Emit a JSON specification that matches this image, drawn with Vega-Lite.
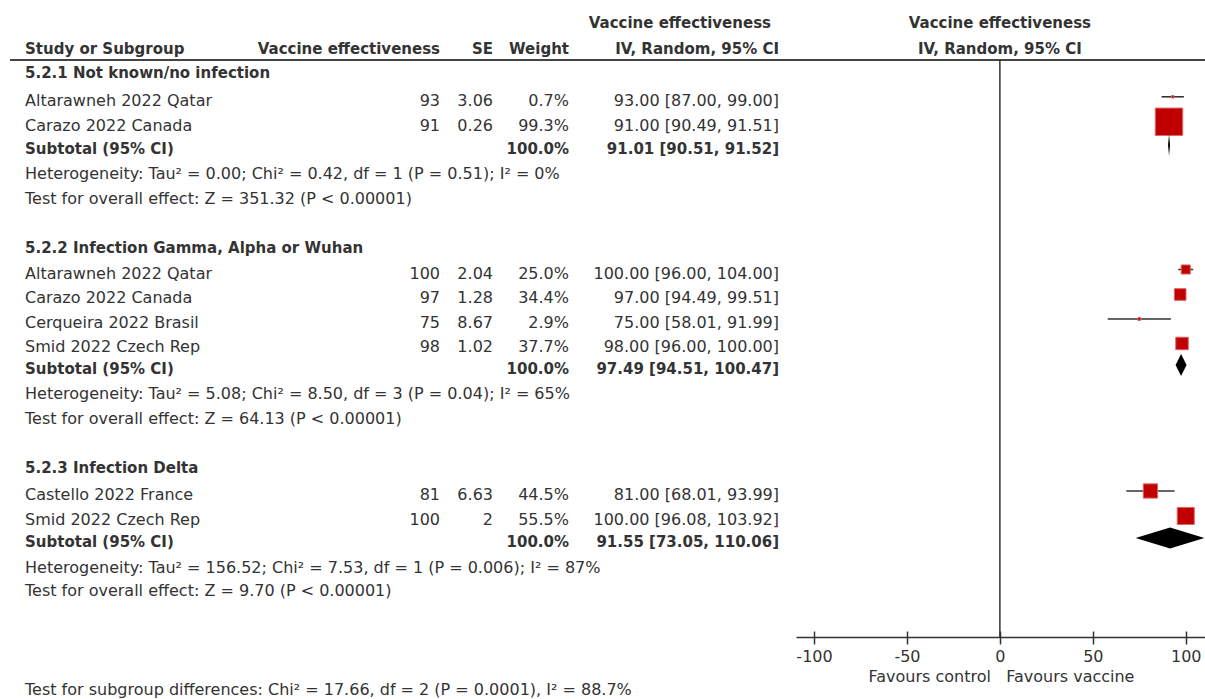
{
  "$schema": "https://vega.github.io/schema/vega-lite/v6.json",
  "background": "white",
  "padding": {"left": 9, "top": 0, "right": 0, "bottom": 0},
  "spacing": 0,
  "bounds": "flush",
  "config": {
    "view": {"stroke": null},
    "font": "DejaVu Sans",
    "text": {"font": "DejaVu Sans", "color": "#333"}
  },
  "datasets": {
    "rows": [
      {"kind": "head1", "row": 0.8, "ci": "Vaccine effectiveness"},
      {"kind": "head", "row": 1.85, "label": "Study or Subgroup", "ve": "Vaccine effectiveness", "se": "SE", "weight": "Weight", "ci": "IV, Random, 95% CI"},
      {"kind": "group", "row": 2.85, "group": "5.2.1", "label": "5.2.1 Not known/no infection"},
      {"kind": "study", "row": 3.95, "group": "5.2.1", "label": "Altarawneh 2022 Qatar", "ve": "93", "se": "3.06", "weight": "0.7%", "w": 0.7, "ci": "93.00 [87.00, 99.00]", "est": 93, "lo": 87, "hi": 99},
      {"kind": "study", "row": 4.97, "group": "5.2.1", "label": "Carazo 2022 Canada", "ve": "91", "se": "0.26", "weight": "99.3%", "w": 99.3, "ci": "91.00 [90.49, 91.51]", "est": 91, "lo": 90.49, "hi": 91.51},
      {"kind": "subtotal", "row": 5.92, "group": "5.2.1", "label": "Subtotal (95% CI)", "weight": "100.0%", "ci": "91.01 [90.51, 91.52]", "est": 91.01, "lo": 90.51, "hi": 91.52},
      {"kind": "note", "row": 6.94, "group": "5.2.1", "label": "Heterogeneity: Tau² = 0.00; Chi² = 0.42, df = 1 (P = 0.51); I² = 0%"},
      {"kind": "note", "row": 7.96, "group": "5.2.1", "label": "Test for overall effect: Z = 351.32 (P < 0.00001)"},
      {"kind": "group", "row": 9.96, "group": "5.2.2", "label": "5.2.2 Infection Gamma, Alpha or Wuhan"},
      {"kind": "study", "row": 11.0, "group": "5.2.2", "label": "Altarawneh 2022 Qatar", "ve": "100", "se": "2.04", "weight": "25.0%", "w": 25.0, "ci": "100.00 [96.00, 104.00]", "est": 100, "lo": 96, "hi": 104},
      {"kind": "study", "row": 12.02, "group": "5.2.2", "label": "Carazo 2022 Canada", "ve": "97", "se": "1.28", "weight": "34.4%", "w": 34.4, "ci": "97.00 [94.49, 99.51]", "est": 97, "lo": 94.49, "hi": 99.51},
      {"kind": "study", "row": 13.02, "group": "5.2.2", "label": "Cerqueira 2022 Brasil", "ve": "75", "se": "8.67", "weight": "2.9%", "w": 2.9, "ci": "75.00 [58.01, 91.99]", "est": 75, "lo": 58.01, "hi": 91.99},
      {"kind": "study", "row": 14.02, "group": "5.2.2", "label": "Smid 2022 Czech Rep", "ve": "98", "se": "1.02", "weight": "37.7%", "w": 37.7, "ci": "98.00 [96.00, 100.00]", "est": 98, "lo": 96, "hi": 100},
      {"kind": "subtotal", "row": 14.9, "group": "5.2.2", "label": "Subtotal (95% CI)", "weight": "100.0%", "ci": "97.49 [94.51, 100.47]", "est": 97.49, "lo": 94.51, "hi": 100.47},
      {"kind": "note", "row": 15.92, "group": "5.2.2", "label": "Heterogeneity: Tau² = 5.08; Chi² = 8.50, df = 3 (P = 0.04); I² = 65%"},
      {"kind": "note", "row": 16.94, "group": "5.2.2", "label": "Test for overall effect: Z = 64.13 (P < 0.00001)"},
      {"kind": "group", "row": 18.94, "group": "5.2.3", "label": "5.2.3 Infection Delta"},
      {"kind": "study", "row": 20.04, "group": "5.2.3", "label": "Castello 2022 France", "ve": "81", "se": "6.63", "weight": "44.5%", "w": 44.5, "ci": "81.00 [68.01, 93.99]", "est": 81, "lo": 68.01, "hi": 93.99},
      {"kind": "study", "row": 21.06, "group": "5.2.3", "label": "Smid 2022 Czech Rep", "ve": "100", "se": "2", "weight": "55.5%", "w": 55.5, "ci": "100.00 [96.08, 103.92]", "est": 100, "lo": 96.08, "hi": 103.92},
      {"kind": "subtotal", "row": 21.96, "group": "5.2.3", "label": "Subtotal (95% CI)", "weight": "100.0%", "ci": "91.55 [73.05, 110.06]", "est": 91.55, "lo": 73.05, "hi": 110.06},
      {"kind": "note", "row": 23.0, "group": "5.2.3", "label": "Heterogeneity: Tau² = 156.52; Chi² = 7.53, df = 1 (P = 0.006); I² = 87%"},
      {"kind": "note", "row": 23.96, "group": "5.2.3", "label": "Test for overall effect: Z = 9.70 (P < 0.00001)"},
      {"kind": "note", "row": 28.0, "group": "all", "label": "Test for subgroup differences: Chi² = 17.66, df = 2 (P = 0.0001), I² = 88.7%"}
    ]
  },
  "hconcat": [
    {
      "width": 786,
      "height": 637,
      "data": {"name": "rows"},
      "encoding": {
        "y": {"field": "row", "type": "quantitative", "scale": {"domain": [0, 26], "reverse": true, "nice": false, "zero": false}, "axis": null}
      },
      "layer": [
        {
          "transform": [{"filter": "datum.kind === 'head'"}],
          "mark": {"type": "rule", "stroke": "#444", "strokeWidth": 2},
          "encoding": {"y": {"datum": 2.45, "type": "quantitative"}}
        },
        {
          "transform": [{"filter": "datum.kind === 'study' || datum.kind === 'note'"}],
          "mark": {"type": "text", "align": "left", "baseline": "middle", "dy": 4, "fontSize": 16, "color": "#333"},
          "encoding": {
            "x": {"datum": 1.91, "type": "quantitative", "scale": {"domain": [0, 100], "nice": false, "zero": false}, "axis": null},
            "text": {"field": "label", "type": "nominal"}
          }
        },
        {
          "transform": [{"filter": "datum.kind === 'head' || datum.kind === 'group' || datum.kind === 'subtotal'"}],
          "mark": {"type": "text", "align": "left", "baseline": "middle", "dy": 3.5, "fontSize": 15, "fontWeight": "bold", "color": "#333"},
          "encoding": {
            "x": {"datum": 1.91, "type": "quantitative"},
            "text": {"field": "label", "type": "nominal"}
          }
        },
        {
          "transform": [{"filter": "datum.kind === 'study'"}],
          "mark": {"type": "text", "align": "right", "baseline": "middle", "dy": 4, "fontSize": 16, "color": "#333"},
          "encoding": {
            "x": {"datum": 54.71, "type": "quantitative"},
            "text": {"field": "ve", "type": "nominal"}
          }
        },
        {
          "transform": [{"filter": "datum.kind === 'head'"}],
          "mark": {"type": "text", "align": "right", "baseline": "middle", "dy": 3.5, "fontSize": 15, "fontWeight": "bold", "color": "#333"},
          "encoding": {
            "x": {"datum": 54.71, "type": "quantitative"},
            "text": {"field": "ve", "type": "nominal"}
          }
        },
        {
          "transform": [{"filter": "datum.kind === 'study'"}],
          "mark": {"type": "text", "align": "right", "baseline": "middle", "dy": 4, "fontSize": 16, "color": "#333"},
          "encoding": {
            "x": {"datum": 61.45, "type": "quantitative"},
            "text": {"field": "se", "type": "nominal"}
          }
        },
        {
          "transform": [{"filter": "datum.kind === 'head'"}],
          "mark": {"type": "text", "align": "right", "baseline": "middle", "dy": 3.5, "fontSize": 15, "fontWeight": "bold", "color": "#333"},
          "encoding": {
            "x": {"datum": 61.45, "type": "quantitative"},
            "text": {"field": "se", "type": "nominal"}
          }
        },
        {
          "transform": [{"filter": "datum.kind === 'study'"}],
          "mark": {"type": "text", "align": "right", "baseline": "middle", "dy": 4, "fontSize": 16, "color": "#333"},
          "encoding": {
            "x": {"datum": 71.12, "type": "quantitative"},
            "text": {"field": "weight", "type": "nominal"}
          }
        },
        {
          "transform": [{"filter": "datum.kind === 'head' || datum.kind === 'subtotal'"}],
          "mark": {"type": "text", "align": "right", "baseline": "middle", "dy": 3.5, "fontSize": 15, "fontWeight": "bold", "color": "#333"},
          "encoding": {
            "x": {"datum": 71.12, "type": "quantitative"},
            "text": {"field": "weight", "type": "nominal"}
          }
        },
        {
          "transform": [{"filter": "datum.kind === 'study'"}],
          "mark": {"type": "text", "align": "right", "baseline": "middle", "dy": 4, "fontSize": 16, "color": "#333"},
          "encoding": {
            "x": {"datum": 97.84, "type": "quantitative"},
            "text": {"field": "ci", "type": "nominal"}
          }
        },
        {
          "transform": [{"filter": "datum.kind === 'head' || datum.kind === 'subtotal'"}],
          "mark": {"type": "text", "align": "right", "baseline": "middle", "dy": 3.5, "fontSize": 15, "fontWeight": "bold", "color": "#333"},
          "encoding": {
            "x": {"datum": 97.84, "type": "quantitative"},
            "text": {"field": "ci", "type": "nominal"}
          }
        },
        {
          "transform": [{"filter": "datum.kind === 'head1'"}],
          "mark": {"type": "text", "align": "right", "baseline": "middle", "dy": 3.5, "fontSize": 15, "fontWeight": "bold", "color": "#333"},
          "encoding": {
            "x": {"datum": 96.82, "type": "quantitative"},
            "text": {"field": "ci", "type": "nominal"}
          }
        }
      ]
    },
    {
      "width": 410,
      "height": 637,
      "data": {"name": "rows"},
      "encoding": {
        "y": {"field": "row", "type": "quantitative", "scale": {"domain": [0, 26], "reverse": true, "nice": false, "zero": false}, "axis": null}
      },
      "resolve": {"axis": {"x": "independent"}},
      "layer": [
        {
          "transform": [{"filter": "datum.kind === 'head'"}],
          "mark": {"type": "rule", "stroke": "#444", "strokeWidth": 2},
          "encoding": {"y": {"datum": 2.45, "type": "quantitative"}}
        },
        {
          "transform": [{"filter": "datum.kind === 'head'"}],
          "mark": {"type": "rule", "stroke": "#333", "strokeWidth": 1.5},
          "encoding": {
            "x": {"datum": 0, "type": "quantitative", "scale": {"domain": [-109.7, 110.9], "nice": false, "zero": false}, "axis": null},
            "y": {"datum": 2.45, "type": "quantitative"},
            "y2": {"datum": 26}
          }
        },
        {
          "transform": [{"filter": "datum.kind === 'study'"}],
          "mark": {"type": "rule", "stroke": "#333", "strokeWidth": 1.6},
          "encoding": {
            "x": {
              "field": "lo", "type": "quantitative",
              "axis": {
                "orient": "bottom", "values": [-100, -50, 0, 50, 100], "labelExpr": "'' + datum.value",
                "grid": false, "tickSize": 7, "tickColor": "#333", "tickWidth": 1.5,
                "domainColor": "#333", "domainWidth": 1.5,
                "labelFont": "DejaVu Sans", "labelFontSize": 16, "labelColor": "#333", "labelPadding": 4,
                "labelFlush": false, "labelOverlap": false, "labelBound": false,
                "title": "Favours control\u00a0\u00a0\u00a0Favours vaccine",
                "titleFont": "DejaVu Sans", "titleFontSize": 16, "titleFontWeight": "normal", "titleColor": "#333", "titlePadding": 4
              }
            },
            "x2": {"field": "hi"}
          }
        },
        {
          "transform": [{"filter": "datum.kind === 'study'"}],
          "mark": {"type": "point", "shape": "square", "filled": true, "fill": "#c00000", "stroke": "#e06666", "strokeWidth": 1, "opacity": 1},
          "encoding": {
            "x": {
              "field": "est", "type": "quantitative",
              "axis": {
                "orient": "bottom", "values": [-100, -50, 0, 50, 100], "labels": false, "domain": false,
                "grid": false, "tickSize": -6, "tickColor": "#333", "tickWidth": 1.5, "title": null
              }
            },
            "size": {"field": "w", "type": "quantitative", "scale": {"type": "pow", "exponent": 1.65, "domain": [0, 100], "range": [6, 760]}, "legend": null}
          }
        },
        {
          "transform": [{"filter": "datum.kind === 'subtotal'"}],
          "mark": {"type": "point", "filled": true, "fill": "#000", "opacity": 1, "size": 400},
          "encoding": {
            "x": {"field": "est", "type": "quantitative", "axis": null},
            "shape": {
              "field": "group", "type": "nominal",
              "scale": {
                "domain": ["5.2.1", "5.2.2", "5.2.3"],
                "range": ["M-0.1,0L0,-1.1L0.1,0L0,1.1Z", "M-0.55,0L0,-1.1L0.55,0L0,1.1Z", "M-3.44,0L0,-1.05L3.44,0L0,1.05Z"]
              },
              "legend": null
            }
          }
        },
        {
          "transform": [{"filter": "datum.kind === 'head' || datum.kind === 'head1'"}],
          "mark": {"type": "text", "align": "center", "baseline": "middle", "dy": 3.5, "fontSize": 15, "fontWeight": "bold", "color": "#333"},
          "encoding": {
            "x": {"datum": 0, "type": "quantitative", "axis": null},
            "text": {"field": "ci", "type": "nominal"}
          }
        }
      ]
    }
  ]
}
